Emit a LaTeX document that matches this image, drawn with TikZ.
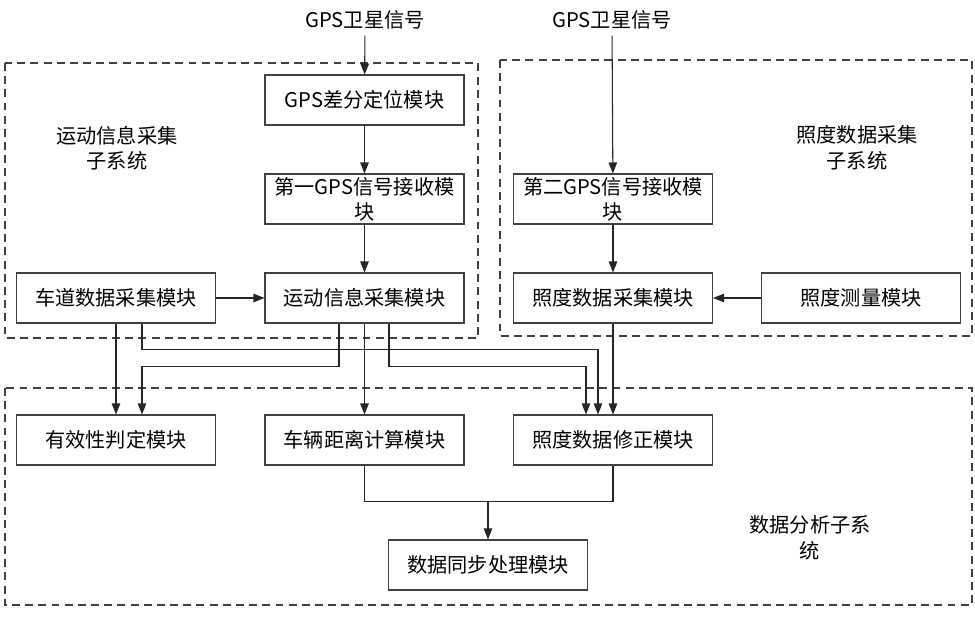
\documentclass[tikz,border=0pt]{standalone}
\usepackage{fontspec}
\setmainfont{Noto Sans CJK SC}
\usetikzlibrary{arrows.meta}

\begin{document}
\begin{tikzpicture}[x=0.02cm,y=-0.02cm,
		box/.style={draw=black!75,line width=0.6pt,minimum width=3.98cm,minimum height=1cm,inner sep=1pt,align=center,font=\fontsize{11.5}{14}\selectfont},
		txt/.style={align=center,font=\fontsize{11.5}{14.5}\selectfont},
		group/.style={draw=black!75,line width=0.6pt,dash pattern=on 4.5pt off 3pt},
		line/.style={black!85,line width=0.6pt},
		arr/.style={line,-{Triangle[length=2.2mm,width=1.7mm]}}]
	\useasboundingbox (0,0) rectangle (975,619);

	% subsystem frames
	\draw [group](5,63)rectangle(478,338);
	\draw [group](500,60)rectangle(972,336);
	\draw [group](5,388)rectangle(972,605);

	\node (sat1)[txt] at(365,20)  {GPS卫星信号};
	\node (sat2)[txt] at(612,20)  {GPS卫星信号};
	\node (sub1)[txt] at(117,148) {运动信息采集\\子系统};
	\node (sub2)[txt] at(857,148) {照度数据采集\\子系统};
	\node (sub3)[txt] at(810,538) {数据分析子系\\统};

	\node (gpsdiff)[box] at(364.5,100) {GPS差分定位模块};
	\node (recv1)[box] at(364.5,199)   {第一GPS信号接收模\\块};
	\node (motion)[box] at(364.5,298)  {运动信息采集模块};
	\node (lane)[box] at(116,298)      {车道数据采集模块};
	\node (recv2)[box] at(613,199)     {第二GPS信号接收模\\块};
	\node (illum)[box] at(613,298)     {照度数据采集模块};
	\node (meter)[box] at(861,298)     {照度测量模块};
	\node (valid)[box] at(116,440)     {有效性判定模块};
	\node (dist)[box] at(364.5,440)    {车辆距离计算模块};
	\node (correct)[box] at(613,440)   {照度数据修正模块};
	\node (sync)[box] at(488,565)      {数据同步处理模块};

	\draw [arr](sat1)--(gpsdiff);
	\draw [arr](gpsdiff)--(recv1);
	\draw [arr](recv1)--(motion);
	\draw [arr](lane)--(motion);
	\draw [arr](sat2)--(recv2);
	\draw [arr](recv2)--(illum);
	\draw [arr](meter)--(illum);

	\draw [arr](lane)--(valid);
	\draw [arr]([xshift=0.52cm]lane.south)--++(0,26)-|([xshift=-0.3cm]correct.north);
	\draw [arr]([xshift=-0.51cm]motion.south)--++(0,43)-|([xshift=0.52cm]valid.north);
	\draw [arr](motion)--(dist);
	\draw [arr]([xshift=0.49cm]motion.south)--++(0,43)-|([xshift=-0.54cm]correct.north);
	\draw [arr](illum)--(correct);

	\draw [line](dist.south)--++(0,36)coordinate(m1)-|(correct.south);
	\draw [arr](m1-|sync.north)--(sync.north);
\end{tikzpicture}
\end{document}
